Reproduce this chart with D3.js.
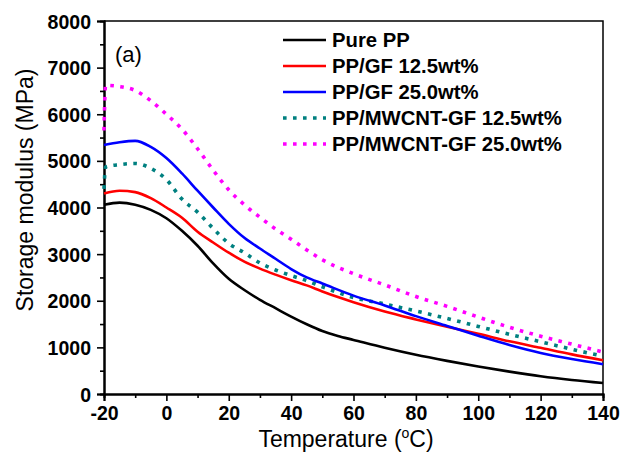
<!DOCTYPE html>
<html>
<head>
<meta charset="utf-8">
<script src="https://cdn.jsdelivr.net/npm/d3@7"></script>
<style>
  body { margin: 0; background: #fff; }
  text { font-family: Arial, "Liberation Sans", sans-serif; }
</style>
</head>
<body>
<svg id="chart" width="621" height="453"></svg>
<script>
// values (temperature in degC, modulus in MPa)
var seriesNames = ["Pure PP", "PP/GF 12.5wt%", "PP/GF 25.0wt%", "PP/MWCNT-GF 12.5wt%", "PP/MWCNT-GF 25.0wt%"];
var colors = ["#000000", "#ff0000", "#0000ff", "#008080", "#ff00ff"];
var dotted = [false, false, false, true, true];

var pureT = [-20, -15, -10, -5, 0, 5, 10, 15, 20, 25, 30, 35, 40, 45, 50, 55, 60, 70, 80, 90, 100, 110, 120, 130, 140];
var pureV = [4060, 4105, 4060, 3950, 3770, 3500, 3180, 2800, 2470, 2230, 2020, 1840, 1660, 1495, 1350, 1245, 1160, 990, 840, 710, 590, 480, 380, 300, 235];

var gf125T = [-20, -15, -10, -5, 0, 5, 10, 15, 20, 25, 30, 35, 40, 45, 50, 55, 60, 70, 80, 90, 100, 110, 120, 130, 140];
var gf125V = [4300, 4360, 4330, 4200, 4000, 3780, 3480, 3250, 3030, 2840, 2690, 2560, 2440, 2330, 2200, 2080, 1970, 1770, 1600, 1440, 1290, 1130, 990, 850, 725];

var gf250T = [-20, -15, -10, -5, 0, 5, 10, 15, 20, 25, 30, 35, 40, 45, 50, 60, 70, 80, 90, 100, 110, 120, 130, 140];
var gf250V = [5340, 5400, 5430, 5300, 5060, 4730, 4360, 4000, 3650, 3350, 3120, 2900, 2680, 2500, 2370, 2110, 1900, 1670, 1460, 1250, 1050, 880, 750, 640];

var cnt125T = [-20, -19.5, -15, -10, -5, 0, 5, 10, 15, 20, 25, 30, 35, 40, 45, 50, 60, 70, 80, 90, 100, 110, 120, 130, 140];
var cnt125V = [4400, 4870, 4920, 4945, 4840, 4600, 4180, 3900, 3550, 3230, 3030, 2810, 2660, 2540, 2430, 2300, 2070, 1930, 1780, 1620, 1450, 1280, 1120, 960, 810];

var cnt250T = [-20, -19.5, -15, -10, -5, 0, 5, 10, 15, 20, 25, 30, 35, 40, 45, 50, 60, 70, 80, 90, 100, 110, 120, 130, 140];
var cnt250V = [5650, 6620, 6595, 6510, 6290, 6000, 5680, 5260, 4800, 4380, 4060, 3790, 3540, 3320, 3090, 2880, 2580, 2340, 2090, 1880, 1650, 1430, 1240, 1070, 900];

var xTicks = [-20, 0, 20, 40, 60, 80, 100, 120, 140];
var yTicks = [0, 1000, 2000, 3000, 4000, 5000, 6000, 7000, 8000];

var allT = [pureT, gf125T, gf250T, cnt125T, cnt250T];
var allV = [pureV, gf125V, gf250V, cnt125V, cnt250V];

var plotLeft = 104, plotRight = 603, plotTop = 21, plotBottom = 394;

var svg = d3.select("#chart");

var xScale = d3.scaleLinear().domain([-20, 140]).range([plotLeft, plotRight]);
var yScale = d3.scaleLinear().domain([0, 8000]).range([plotBottom, plotTop]);

// frame (top and right)
svg.append("path")
  .attr("d", `M${plotLeft},${plotTop}H${plotRight}V${plotBottom}`)
  .attr("fill", "none")
  .attr("stroke", "#000")
  .attr("stroke-width", 1.5);

// minor ticks
var xAxisMinor = svg.append("g")
  .attr("transform", `translate(0, ${plotBottom})`)
  .call(d3.axisBottom(xScale).tickValues(d3.range(-10, 140, 20)).tickSize(4).tickFormat(""));
var yAxisMinor = svg.append("g")
  .attr("transform", `translate(${plotLeft}, 0)`)
  .call(d3.axisLeft(yScale).tickValues(d3.range(500, 8000, 1000)).tickSize(4).tickFormat(""));

var plainFormat = function(d) { return String(d); };

var xAxis = svg.append("g")
  .attr("transform", `translate(0, ${plotBottom})`)
  .call(d3.axisBottom(xScale).tickValues(xTicks).tickSize(7).tickPadding(5).tickFormat(plainFormat));

var yAxis = svg.append("g")
  .attr("transform", `translate(${plotLeft}, 0)`)
  .call(d3.axisLeft(yScale).tickValues(yTicks).tickSize(7).tickPadding(6).tickFormat(plainFormat));

[xAxisMinor, yAxisMinor, xAxis, yAxis].forEach(function(g) {
  g.selectAll("path.domain").attr("stroke", "#000").attr("stroke-width", 2);
  g.selectAll(".tick line").attr("stroke", "#000").attr("stroke-width", 1.6);
});
xAxis.selectAll("text")
  .attr("font-size", "19.5px").attr("font-weight", "bold").attr("fill", "#000")
  .attr("font-family", "Arial, 'Liberation Sans', sans-serif");
yAxis.selectAll("text")
  .attr("font-size", "19.5px").attr("font-weight", "bold").attr("fill", "#000")
  .attr("font-family", "Arial, 'Liberation Sans', sans-serif")
  .attr("dy", "0.36em");

// curves
var line = d3.line()
  .x(function(d) { return xScale(d[0]); })
  .y(function(d) { return yScale(d[1]); })
  .curve(d3.curveMonotoneX);

// draw order: dotted first, then solid on top
[4, 3, 0, 1, 2].forEach(function(i) {
  var pts = d3.zip(allT[i], allV[i]);
  var p = svg.append("path")
    .attr("d", line(pts))
    .attr("fill", "none")
    .attr("stroke", colors[i]);
  if (dotted[i]) {
    p.attr("stroke-width", 3.6).attr("stroke-dasharray", "3.6,6.4");
  } else {
    p.attr("stroke-width", 2.6);
  }
});

// legend
var legend = svg.append("g");
seriesNames.forEach(function(name, i) {
  var ly = 40 + i * 26;
  var l = legend.append("line")
    .attr("x1", 283).attr("x2", 326)
    .attr("y1", ly).attr("y2", ly)
    .attr("stroke", colors[i]);
  if (dotted[i]) {
    l.attr("stroke-width", 3.6).attr("stroke-dasharray", "3.6,6.4");
  } else {
    l.attr("stroke-width", 2.6);
  }
  legend.append("text")
    .attr("x", 332).attr("y", ly + 7)
    .attr("font-size", "20.3px")
    .attr("font-weight", "bold")
    .text(name);
});

// panel label
svg.append("text")
  .attr("x", 115).attr("y", 62)
  .attr("font-size", "22px")
  .text("(a)");

// axis titles
svg.append("text")
  .attr("transform", "translate(33, 190) rotate(-90)")
  .attr("text-anchor", "middle")
  .attr("font-size", "23px")
  .text("Storage modulus (MPa)");

var xt = svg.append("text")
  .attr("x", 346).attr("y", 447)
  .attr("text-anchor", "middle")
  .attr("font-size", "23px");
xt.append("tspan").text("Temperature (");
xt.append("tspan").attr("font-size", "14px").attr("dy", "-9").text("o");
xt.append("tspan").attr("dy", "9").text("C)");
</script>
</body>
</html>
